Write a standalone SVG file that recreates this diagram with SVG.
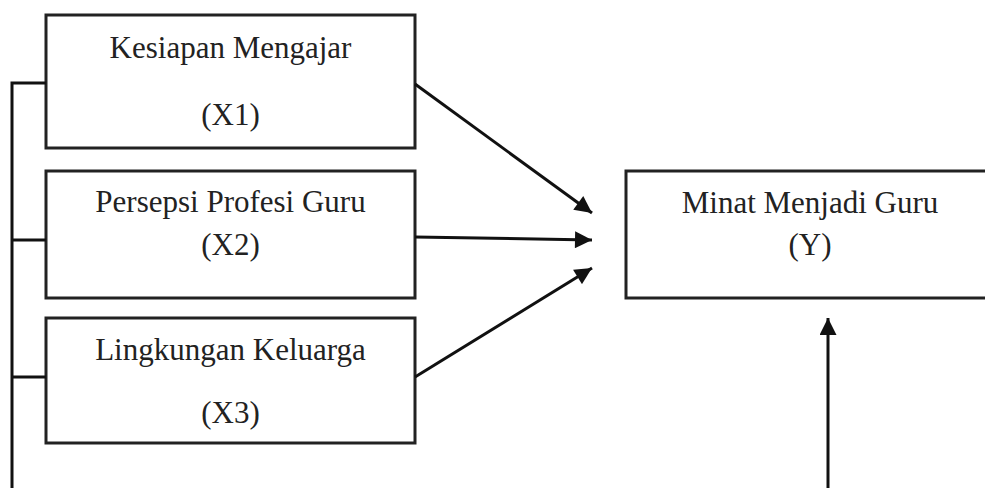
<svg xmlns="http://www.w3.org/2000/svg" width="985" height="488" viewBox="0 0 985 488">
<defs>
<style>
.box{fill:#fff;stroke:#222;stroke-width:3}
.t{font-family:"Liberation Serif","Times New Roman",serif;font-size:31px;fill:#222;text-anchor:middle}
.c{stroke:#111;stroke-width:3;fill:none}
</style>
<marker id="arr" viewBox="0 0 10 10" refX="10" refY="5" markerWidth="19" markerHeight="17" markerUnits="userSpaceOnUse" orient="auto"><path d="M0,0 L10,5 L0,10 z" fill="#111"/></marker>
</defs>
<rect width="985" height="488" fill="#fff"/>
<g id="x1"><rect class="box" x="46" y="15" width="369" height="133"/><text class="t" x="230.5" y="58">Kesiapan Mengajar</text><text class="t" x="230.5" y="125">(X1)</text></g>
<g id="x2"><rect class="box" x="46" y="171" width="369" height="127"/><text class="t" x="230.5" y="212">Persepsi Profesi Guru</text><text class="t" x="230.5" y="255">(X2)</text></g>
<g id="x3"><rect class="box" x="46" y="318" width="369" height="125"/><text class="t" x="230.5" y="360">Lingkungan Keluarga</text><text class="t" x="230.5" y="423">(X3)</text></g>
<g id="y"><rect class="box" x="626" y="171" width="370" height="127"/><text class="t" x="810" y="213">Minat Menjadi Guru</text><text class="t" x="810" y="255">(Y)</text></g>
<g id="connectors">
<path class="c" d="M12,490 V83 H46 M12,240 H46 M12,377 H46"/>
<path class="c" d="M415,84 L592,213" marker-end="url(#arr)"/>
<path class="c" d="M415,237 L592,240" marker-end="url(#arr)"/>
<path class="c" d="M415,377 L592,268" marker-end="url(#arr)"/>
<path class="c" d="M828,490 V318" marker-end="url(#arr)"/>
</g>
</svg>
